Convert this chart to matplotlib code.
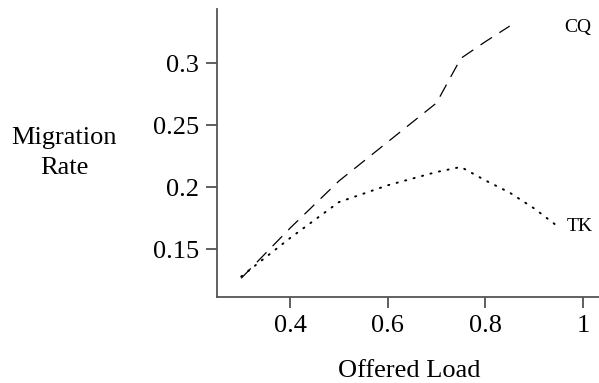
import matplotlib
matplotlib.use('Agg')
import matplotlib.pyplot as plt

plt.rcParams['font.family'] = ['Liberation Serif', 'DejaVu Serif']

# offered load (x) and migration rate (y)
load_cq = [0.3, 0.4, 0.5, 0.6, 0.7, 0.75, 0.8, 0.85]
rate_cq = [0.1266, 0.167, 0.205, 0.2365, 0.268, 0.304, 0.3174, 0.330]

load_tk = [0.3, 0.4, 0.5, 0.6, 0.7, 0.75, 0.8, 0.85, 0.9, 0.95]
rate_tk = [0.128, 0.159, 0.188, 0.2016, 0.2123, 0.2164, 0.2056, 0.1957, 0.183, 0.168]

xticks = [0.4, 0.6, 0.8, 1.0]
xtick_labels = ['0.4', '0.6', '0.8', '1']
yticks = [0.15, 0.2, 0.25, 0.3]
ytick_labels = ['0.15', '0.2', '0.25', '0.3']

fig = plt.figure(figsize=(5.99, 3.83), dpi=100)
ax = fig.add_axes([0.3623, 0.2245, 1.0 - 0.3623, 0.9765 - 0.2245])

ax.plot(load_cq, rate_cq, color='black', lw=0.9, dashes=(11, 7))
ax.plot(load_tk, rate_tk, color='black', lw=1.4, linestyle=(0, (0.6, 3.9)),
        dash_capstyle='round')

ax.text(0.99, 0.329, 'CQ', fontsize=14, ha='center', va='center')
ax.text(0.994, 0.168, 'TK', fontsize=14, ha='center', va='center')

ax.set_xlim(0.2505, 1.033)
ax.set_ylim(0.1115, 0.3438)

ax.set_xticks(xticks)
ax.set_xticklabels(xtick_labels, fontsize=19)
ax.set_yticks(yticks)
ax.set_yticklabels(ytick_labels, fontsize=19)
ax.tick_params(axis='both', direction='out', length=8, width=1.2,
               color='#444444', pad=5)

for side in ['top', 'right']:
    ax.spines[side].set_visible(False)
for side in ['left', 'bottom']:
    ax.spines[side].set_color('#555555')
    ax.spines[side].set_linewidth(1.3)

ax.text(-0.4005, 0.5, 'Migration\nRate', transform=ax.transAxes,
        fontsize=19, ha='center', va='center', multialignment='center',
        linespacing=1.45)
ax.text(0.503, -0.278, 'Offered Load', transform=ax.transAxes,
        fontsize=19, ha='center', va='baseline')

fig.savefig('out.png', dpi=100)
